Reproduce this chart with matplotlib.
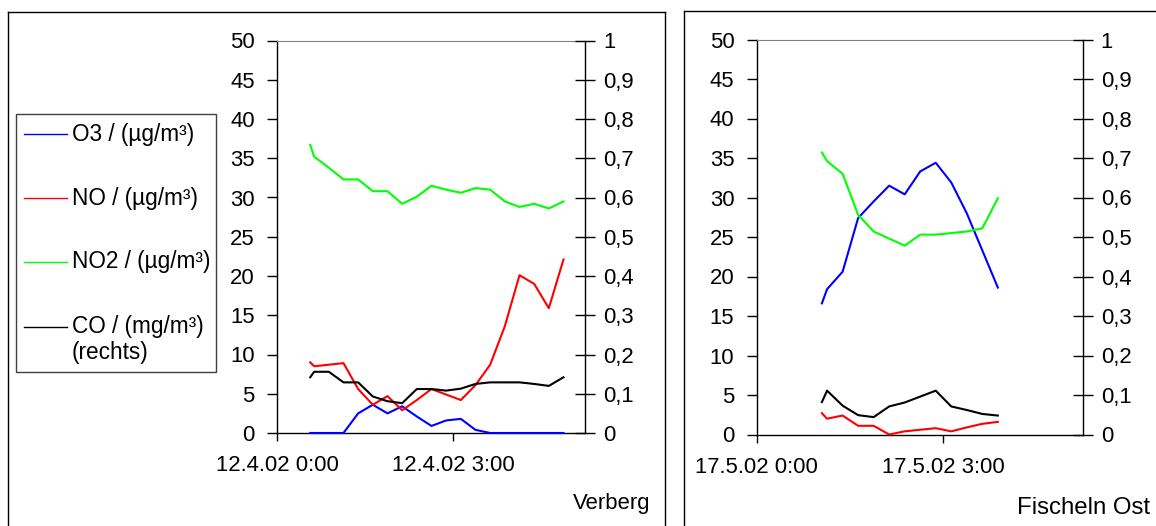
import matplotlib
matplotlib.use("Agg")
import matplotlib.pyplot as plt
from matplotlib.lines import Line2D
from matplotlib.patches import Rectangle

plt.rcParams['font.family'] = ['Liberation Sans', 'DejaVu Sans']

# ---------------- data ----------------
# times in minutes after midnight
times_left = [34, 38, 53, 68, 83, 98, 113, 128, 143, 158, 173, 188, 203, 218, 233, 248, 263, 278, 293]
o3_left = [0, 0, 0, 0, 2.5, 3.6, 2.5, 3.4, 2.1, 0.9, 1.6, 1.8, 0.4, 0, 0, 0, 0, 0, 0]
no_left = [9.0, 8.5, 8.7, 8.9, 5.6, 3.6, 4.7, 2.9, 4.2, 5.6, 4.9, 4.2, 6.1, 8.7, 13.6, 20.1, 19.0, 15.9, 22.1]
no2_left = [36.7, 35.2, 33.8, 32.3, 32.3, 30.8, 30.8, 29.2, 30.1, 31.5, 31.0, 30.6, 31.2, 31.0, 29.5, 28.8, 29.2, 28.6, 29.5]
co_left = [0.142, 0.156, 0.156, 0.129, 0.129, 0.093, 0.081, 0.076, 0.112, 0.112, 0.108, 0.113, 0.125, 0.129, 0.129, 0.129, 0.125, 0.120, 0.142]

times_right = [63, 68, 83, 98, 113, 128, 143, 158, 173, 188, 203, 218, 233]
o3_right = [16.6, 18.4, 20.6, 27.4, 29.5, 31.5, 30.4, 33.3, 34.4, 31.9, 28.0, 23.3, 18.6]
no_right = [2.7, 2.0, 2.4, 1.1, 1.1, 0.0, 0.4, 0.6, 0.8, 0.4, 0.9, 1.35, 1.6]
no2_right = [35.7, 34.6, 33.0, 27.8, 25.7, 24.8, 23.9, 25.3, 25.3, 25.5, 25.7, 26.1, 29.9]
co_right = [0.082, 0.111, 0.073, 0.049, 0.044, 0.071, 0.081, 0.096, 0.111, 0.071, 0.062, 0.052, 0.048]

series_labels = ["O3 / (µg/m³)", "NO / (µg/m³)", "NO2 / (µg/m³)", "CO / (mg/m³)"]
series_colors = ["#0000FF", "#FF0000", "#00FF00", "#000000"]
left_ticks = [0, 5, 10, 15, 20, 25, 30, 35, 40, 45, 50]
right_ticks = [0, 0.1, 0.2, 0.3, 0.4, 0.5, 0.6, 0.7, 0.8, 0.9, 1]
right_ticklabels = ["0", "0,1", "0,2", "0,3", "0,4", "0,5", "0,6", "0,7", "0,8", "0,9", "1"]
xtick_hours = [0, 3]
xlabels_left = ["12.4.02 0:00", "12.4.02 3:00"]
xlabels_right = ["17.5.02 0:00", "17.5.02 3:00"]
station_left = "Verberg"
station_right = "Fischeln Ost"

# ---------------- figure ----------------
W, H = 1156, 526
fig = plt.figure(figsize=(W / 100, H / 100), dpi=100)
FS = 15.9
LW = 1.5


def px(x0, y0, x1, y1):
    return [x0 / W, 1 - y1 / H, (x1 - x0) / W, (y1 - y0) / H]


def panel(rect, times, o3, no, no2, co, xlabels):
    ax = fig.add_axes(rect)
    t = [m / 60 for m in times]
    for vals, c in zip([o3, no, no2], series_colors[:3]):
        ax.plot(t, vals, color=c, lw=LW, clip_on=False, zorder=3)
    ax.set_xlim(0, 5.25)
    ax.set_ylim(0, 50)
    ax.set_yticks(left_ticks)
    ax.set_yticklabels([str(v) for v in left_ticks])
    ax.set_xticks(xtick_hours)
    ax.set_xticklabels(xlabels)
    ax.tick_params(axis='y', direction='out', length=7, width=1, pad=9, labelsize=FS)
    ax.tick_params(axis='x', direction='out', length=6, width=1, pad=10, labelsize=FS)
    ax.spines['top'].set_color('#808080')
    ax.spines['right'].set_visible(False)
    for s in ['left', 'bottom']:
        ax.spines[s].set_linewidth(1)
    ax.patch.set_alpha(0)
    ax2 = ax.twinx()
    ax2.plot(t, co, color=series_colors[3], lw=LW, clip_on=False, zorder=3)
    ax2.set_ylim(0, 1)
    ax2.set_xlim(0, 5.25)
    ax2.set_yticks(right_ticks)
    ax2.set_yticklabels(right_ticklabels)
    ax2.tick_params(axis='y', direction='inout', length=14, width=1, pad=6, labelsize=FS)
    for s in ['top', 'left', 'bottom']:
        ax2.spines[s].set_visible(False)
    ax2.spines['right'].set_linewidth(1)
    return ax, ax2


panel(px(277, 40.5, 585, 433), times_left, o3_left, no_left, no2_left, co_left, xlabels_left)
panel(px(756.7, 39.5, 1082.7, 434.5), times_right, o3_right, no_right, no2_right, co_right, xlabels_right)

fig.text(650 / W, 1 - 503 / H, station_left, ha='right', va='center', fontsize=FS)
fig.text(1150 / W, 1 - 508 / H, station_right, ha='right', va='center', fontsize=17.3)


# panel borders
def fline(xs, ys, color='black', zorder=5):
    fig.add_artist(Line2D([x / W for x in xs], [1 - y / H for y in ys], transform=fig.transFigure,
                          color=color, lw=1, zorder=zorder))


fline([8, 665], [12, 12])
fline([8, 8], [12, 530])
fline([665, 665], [12, 530])
fline([684, 1160], [11, 11])
fline([684, 684], [11, 530])

# legend
fig.add_artist(Rectangle((16 / W, 1 - 372 / H), 200 / W, 258 / H, transform=fig.transFigure,
                         facecolor='white', edgecolor='#404040', lw=1, zorder=4))
ys = [134, 198, 262, 327]
for y, lab, c in zip(ys, series_labels, series_colors):
    fline([24, 67], [y, y], color=c, zorder=6)
    fig.text(72 / W, 1 - y / H, lab, ha='left', va='center', fontsize=16.3, zorder=6)
fig.text(72 / W, 1 - 352 / H, "(rechts)", ha='left', va='center', fontsize=16.3, zorder=6)

fig.savefig("out.png", dpi=100)
